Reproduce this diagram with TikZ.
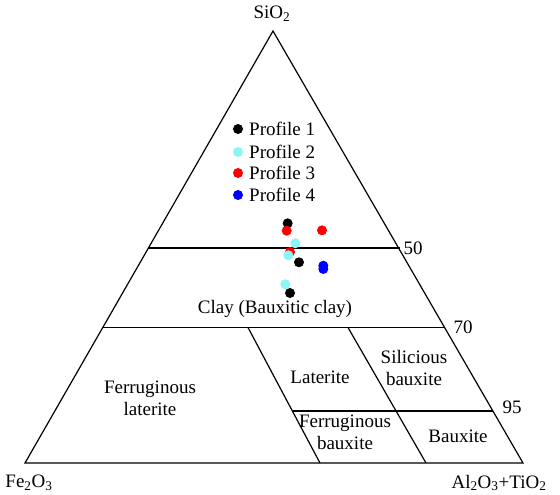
\documentclass[tikz,border=0pt]{standalone}
\usepackage{fontspec}
\setmainfont{Liberation Serif}
\newfontfamily\labelfont{Liberation Serif}
\begin{document}
\begin{tikzpicture}[
  x=1pt, y=-1pt,
  every node/.style={font=\labelfont\fontsize{19}{22}\selectfont},
  field/.style={align=center, inner sep=0pt},
  border/.style={line width=1.2pt, line join=miter},
  divide/.style={line width=1.3pt},
  sample/.style={circle, inner sep=0pt, minimum size=10pt},
  legendtext/.style={anchor=west, inner sep=0pt}
]
\definecolor{prof1}{RGB}{0,0,0}
\definecolor{prof2}{RGB}{140,245,245}
\definecolor{prof3}{RGB}{255,0,0}
\definecolor{prof4}{RGB}{0,0,255}
\useasboundingbox (0,0) rectangle (560,495);

%corners
\coordinate (top)   at (273,31);
\coordinate (left)  at (25,463);
\coordinate (right) at (523,463);

%field borders
\coordinate (l50) at (148,248);   \coordinate (r50) at (400,248);
\coordinate (l70) at (103,327.5); \coordinate (r70) at (445,327.5);
\coordinate (l95) at (293,411);   \coordinate (r95) at (493,411);
\coordinate (latTop) at (248,327.5); \coordinate (latBot) at (320,463);
\coordinate (silTop) at (348,327.5); \coordinate (silBot) at (426,463);

\draw[border] (left) -- (top) -- (right) -- cycle;
\draw[divide] (l50) -- (r50);
\draw[divide] (l70) -- (r70);
\draw[divide] (l95) -- (r95);
\draw[border] (latTop) -- (latBot);
\draw[border] (silTop) -- (silBot);

%apices and ticks
\node (si)   at (272,14)  {SiO\textsubscript{2}};
\node (fe)   at (29,483)  {Fe\textsubscript{2}O\textsubscript{3}};
\node (al)   at (499,483) {Al\textsubscript{2}O\textsubscript{3}+TiO\textsubscript{2}};
\node[right] (t50) at (r50) {50};
\node[right] (t70) at ([xshift=5pt]r70) {70};
\node[right] (t95) at ([xshift=6pt,yshift=4pt]r95) {95};

%fields
\node[field] (clay)  at (275,309) {Clay (Bauxitic clay)};
\node[field] (ferLat) at (150,398) {Ferruginous\\laterite};
\node[field] (lat)   at (320,377) {Laterite};
\node[field] (silB)  at (414,368) {Silicious\\bauxite};
\node[field] (ferB)  at (345,432) {Ferruginous\\bauxite};
\node[field] (baux)  at (458,436) {Bauxite};

%legend
\node[sample, fill=prof1] (k1) at (238,129) {};
\node[sample, fill=prof2] (k2) at (238,152) {};
\node[sample, fill=prof3] (k3) at (238,173) {};
\node[sample, fill=prof4] (k4) at (238,195) {};
\node[legendtext] (n1) at (249,129) {Profile 1};
\node[legendtext] (n2) at (249,152) {Profile 2};
\node[legendtext] (n3) at (249,173) {Profile 3};
\node[legendtext] (n4) at (249,195) {Profile 4};

%samples
\node[sample, fill=prof1] (a1) at (287.7,223.3) {};
\node[sample, fill=prof1] (a2) at (299,262.3) {};
\node[sample, fill=prof1] (a3) at (290,293) {};
\node[sample, fill=prof2] (b1) at (295.3,243.3) {};
\node[sample, fill=prof2] (b3) at (285.3,284.3) {};
\node[sample, fill=prof3] (c1) at (286.7,230.7) {};
\node[sample, fill=prof3] (c2) at (322,230.3) {};
\node[sample, fill=prof3] (c3) at (290,252) {};
\node[sample, fill=prof2] (b2) at (288.3,255.3) {};
\node[sample, fill=prof4] (d1) at (323.3,265.7) {};
\node[sample, fill=prof4] (d2) at (323.3,269) {};

\end{tikzpicture}
\end{document}
